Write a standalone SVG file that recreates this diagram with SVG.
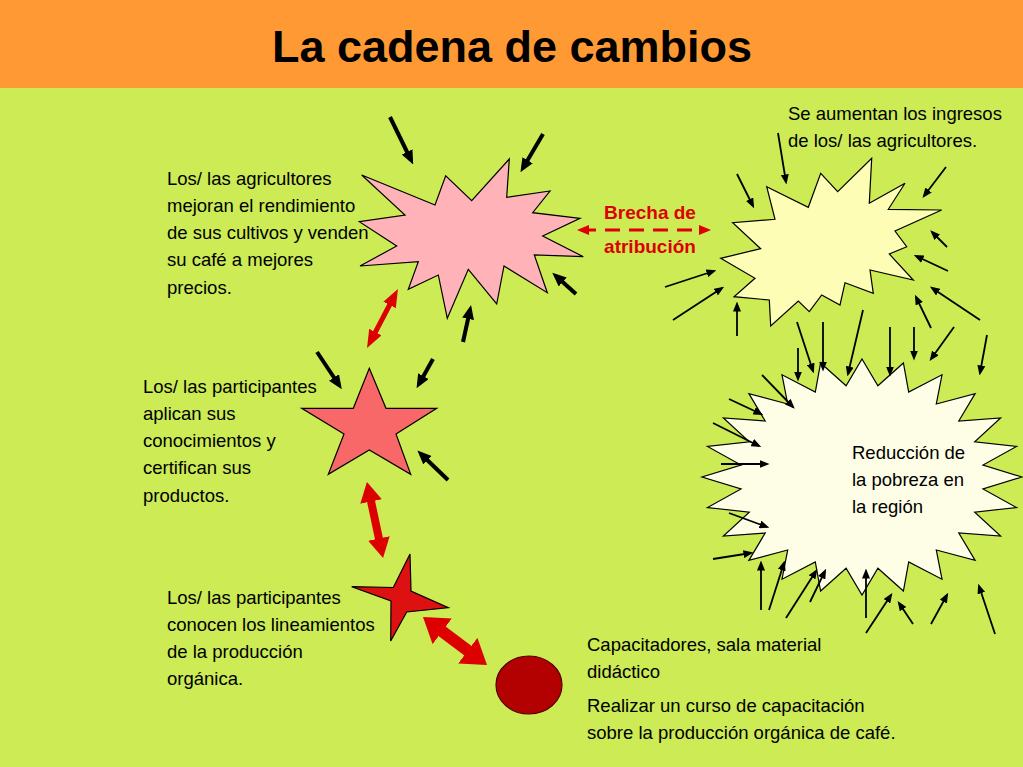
<svg xmlns="http://www.w3.org/2000/svg" width="1023" height="767" viewBox="0 0 1023 767">
<style>
.t{font-family:"Liberation Sans",Arial,sans-serif;font-size:18.5px;fill:#000}
.br{font-family:"Liberation Sans",Arial,sans-serif;font-size:19px;font-weight:bold;fill:#DD0000;text-anchor:middle}
.thick{stroke:#000;stroke-width:4;fill:none;marker-end:url(#mThick)}
.thin{stroke:#000;stroke-width:1.8;fill:none;marker-end:url(#mThin)}
.shape{stroke:#000;stroke-width:1.2}
</style>
<defs>
<marker id="mThick" viewBox="0 0 14 12" refX="9" refY="6" markerWidth="14" markerHeight="12" markerUnits="userSpaceOnUse" orient="auto"><path d="M0,0 L14,6 L0,12 z" fill="#000"/></marker>
<marker id="mThin" viewBox="0 0 10 8" refX="7.5" refY="4" markerWidth="10" markerHeight="8" markerUnits="userSpaceOnUse" orient="auto"><path d="M0,0 L10,4 L0,8 z" fill="#000"/></marker>
<marker id="mR1" viewBox="0 0 18 14" refX="11" refY="7" markerWidth="18" markerHeight="14" markerUnits="userSpaceOnUse" orient="auto-start-reverse"><path d="M0,0 L18,7 L0,14 z" fill="#DD0000"/></marker>
<marker id="mR2" viewBox="0 0 20 22" refX="12" refY="11" markerWidth="20" markerHeight="22" markerUnits="userSpaceOnUse" orient="auto-start-reverse"><path d="M0,0 L20,11 L0,22 z" fill="#DD0000"/></marker>
<marker id="mR3" viewBox="0 0 24 32" refX="14" refY="16" markerWidth="24" markerHeight="32" markerUnits="userSpaceOnUse" orient="auto-start-reverse"><path d="M0,0 L24,16 L0,32 z" fill="#DD0000"/></marker>
<marker id="mB" viewBox="0 0 12 10" refX="8" refY="5" markerWidth="12" markerHeight="10" markerUnits="userSpaceOnUse" orient="auto-start-reverse"><path d="M0,0 L12,5 L0,10 z" fill="#DD0000"/></marker>
</defs>

<rect x="0" y="0" width="1023" height="767" fill="#CCEB55"/>
<rect x="0" y="0" width="1023" height="88" fill="#FF9933"/>
<text x="512" y="62" font-family="Liberation Sans,Arial,sans-serif" font-size="45" font-weight="bold" text-anchor="middle" fill="#000">La cadena de cambios</text>

<g id="burst-agricultores">
<polygon class="shape" fill="#FFB3B8" points="361.7,175 435,205 445.7,175.7 471.7,200.7 509.3,159 506.7,197.3 550,191 532.7,212.7 580,218.3 542.7,236 583.3,256.7 534.3,255 547.3,292.7 504,266 496.7,304 468.3,269.3 447.3,318.3 438.3,275 408.3,289.3 418.3,261.7 360,266 396.7,246 359.3,221.7 405,215"/>
</g>
<g id="star-aplican">
<polygon class="shape" fill="#F86868" points="369.3,368.3 386,408.3 436.7,408.3 396,434 410.7,474.3 369.3,450 328.3,474.3 344,434 301.7,408.3 353.3,408.3"/>
</g>
<g id="star-conocen">
<polygon class="shape" fill="#DD1111" points="410,554 411,591 448.3,607.7 406.7,612 390.7,641 391,601 351.7,586.7 393.3,587.5"/>
</g>
<g id="oval-insumos">
<ellipse cx="529" cy="685" rx="33" ry="29" fill="#B30000" stroke="#500" stroke-width="1.2"/>
</g>
<g id="burst-ingresos">
<polygon class="shape" fill="#FEFDB5" points="766.7,186.7 808.3,207.3 820.7,173.3 837.7,191.7 871.7,158.3 869.3,203.3 905,183.3 888.3,209.3 941.7,210 895,231 906.7,246.7 889.3,254 913.3,280 870,270 873.3,293.3 845,282.7 840,305 821.7,295 809.3,311.7 798.3,301 770.7,326 769.3,300 734,296.7 755,278.3 720.7,258.3 760.7,248.7 732.7,222.7 775,219.3"/>
</g>
<g id="burst-pobreza">
<polygon class="shape" fill="#FEFEE6" points="862,359 877.9,385.8 903.4,363 908.7,392 942,374.8 936.3,404 975.1,393.6 958.8,421 1000.6,418 974.7,441.8 1016.5,446.5 983,465 1022,477 983,489 1016.5,507.5 974.7,512.2 1000.6,536 958.8,533 975.1,560.4 936.3,550 942,579.2 908.7,562 903.4,591 877.9,568.2 862,595 846.1,568.2 820.6,591 815.3,562 782,579.2 787.7,550 748.9,560.4 765.2,533 723.4,536 749.3,512.2 707.5,507.5 741,489 702,477 741,465 707.5,446.5 749.3,441.8 723.4,418 765.2,421 748.9,393.6 787.7,404 782,374.8 815.3,392 820.6,363 846.1,385.8"/>
</g>

<g id="connectors">
<line class="thick" x1="390" y1="117" x2="411" y2="160"/>
<line class="thick" x1="543" y1="134" x2="523" y2="168"/>
<line class="thick" x1="576" y1="294" x2="556" y2="276"/>
<line class="thick" x1="463" y1="342" x2="470" y2="310"/>
<line class="thick" x1="317" y1="352" x2="339" y2="385"/>
<line class="thick" x1="433" y1="359" x2="419" y2="384"/>
<line class="thick" x1="448" y1="480" x2="421" y2="454"/>

<line class="thin" x1="778" y1="133" x2="786" y2="182"/>
<line class="thin" x1="737" y1="174" x2="753" y2="206"/>
<line class="thin" x1="946" y1="167" x2="924" y2="196"/>
<line class="thin" x1="947" y1="247" x2="932" y2="232"/>
<line class="thin" x1="948" y1="271" x2="916" y2="256"/>
<line class="thin" x1="665" y1="287" x2="714" y2="271"/>
<line class="thin" x1="673" y1="320" x2="722" y2="288"/>
<line class="thin" x1="737" y1="336" x2="737" y2="304"/>
<line class="thin" x1="980" y1="320" x2="932" y2="288"/>
<line class="thin" x1="931" y1="328" x2="916" y2="297"/>

<line class="thin" x1="797" y1="322" x2="813" y2="371"/>
<line class="thin" x1="823" y1="322" x2="823" y2="369"/>
<line class="thin" x1="863" y1="310" x2="848" y2="374"/>
<line class="thin" x1="798" y1="348" x2="798" y2="379"/>
<line class="thin" x1="890" y1="327" x2="890" y2="374"/>
<line class="thin" x1="914" y1="327" x2="914" y2="358"/>
<line class="thin" x1="954" y1="327" x2="931" y2="359"/>
<line class="thin" x1="987" y1="335" x2="980" y2="373"/>
<line class="thin" x1="762" y1="375" x2="793" y2="407"/>
<line class="thin" x1="729" y1="399" x2="761" y2="414"/>
<line class="thin" x1="713" y1="423" x2="759" y2="446"/>
<line class="thin" x1="721" y1="464" x2="767" y2="464"/>
<line class="thin" x1="729" y1="513" x2="767" y2="527"/>
<line class="thin" x1="713" y1="559" x2="751" y2="553"/>
<line class="thin" x1="761" y1="610" x2="761" y2="563"/>
<line class="thin" x1="769" y1="610" x2="784" y2="563"/>
<line class="thin" x1="786" y1="618" x2="816" y2="571"/>
<line class="thin" x1="810" y1="602" x2="825" y2="571"/>
<line class="thin" x1="866" y1="618" x2="866" y2="571"/>
<line class="thin" x1="866" y1="633" x2="891" y2="595"/>
<line class="thin" x1="913" y1="624" x2="899" y2="603"/>
<line class="thin" x1="931" y1="624" x2="947" y2="595"/>
<line class="thin" x1="995" y1="634" x2="979" y2="586"/>

<line x1="370.3" y1="341.8" x2="394.7" y2="295.2" stroke="#DD0000" stroke-width="5" marker-start="url(#mR1)" marker-end="url(#mR1)"/>
<line x1="368.6" y1="489.8" x2="381.4" y2="550.2" stroke="#DD0000" stroke-width="8" marker-start="url(#mR2)" marker-end="url(#mR2)"/>
<line x1="431" y1="623" x2="479" y2="659" stroke="#DD0000" stroke-width="12" marker-start="url(#mR3)" marker-end="url(#mR3)"/>
<line x1="581" y1="230" x2="707" y2="230" stroke="#DD0000" stroke-width="3" stroke-dasharray="15,9" marker-start="url(#mB)" marker-end="url(#mB)"/>
</g>

<g id="labels">
<text class="t" x="167"><tspan x="167" y="185">Los/ las agricultores</tspan><tspan x="167" y="212">mejoran el rendimiento</tspan><tspan x="167" y="239">de sus cultivos y venden</tspan><tspan x="167" y="266">su café a mejores</tspan><tspan x="167" y="294">precios.</tspan></text>
<text class="t"><tspan x="143" y="393">Los/ las participantes</tspan><tspan x="143" y="420">aplican sus</tspan><tspan x="143" y="447">conocimientos y</tspan><tspan x="143" y="474">certifican sus</tspan><tspan x="143" y="502">productos.</tspan></text>
<text class="t"><tspan x="167" y="604">Los/ las participantes</tspan><tspan x="167" y="631">conocen los lineamientos</tspan><tspan x="167" y="658">de la producción</tspan><tspan x="167" y="685">orgánica.</tspan></text>
<text class="t"><tspan x="788" y="120">Se aumentan los ingresos</tspan><tspan x="788" y="147">de los/ las agricultores.</tspan></text>
<text class="t"><tspan x="852" y="459">Reducción de</tspan><tspan x="852" y="486">la pobreza en</tspan><tspan x="852" y="513">la región</tspan></text>
<text class="t"><tspan x="587" y="651">Capacitadores, sala material</tspan><tspan x="587" y="678">didáctico</tspan><tspan x="587" y="712">Realizar un curso de capacitación</tspan><tspan x="587" y="739">sobre la producción orgánica de café.</tspan></text>
<text class="br"><tspan x="650" y="219">Brecha de</tspan><tspan x="650" y="253">atribución</tspan></text>
</g>
</svg>
